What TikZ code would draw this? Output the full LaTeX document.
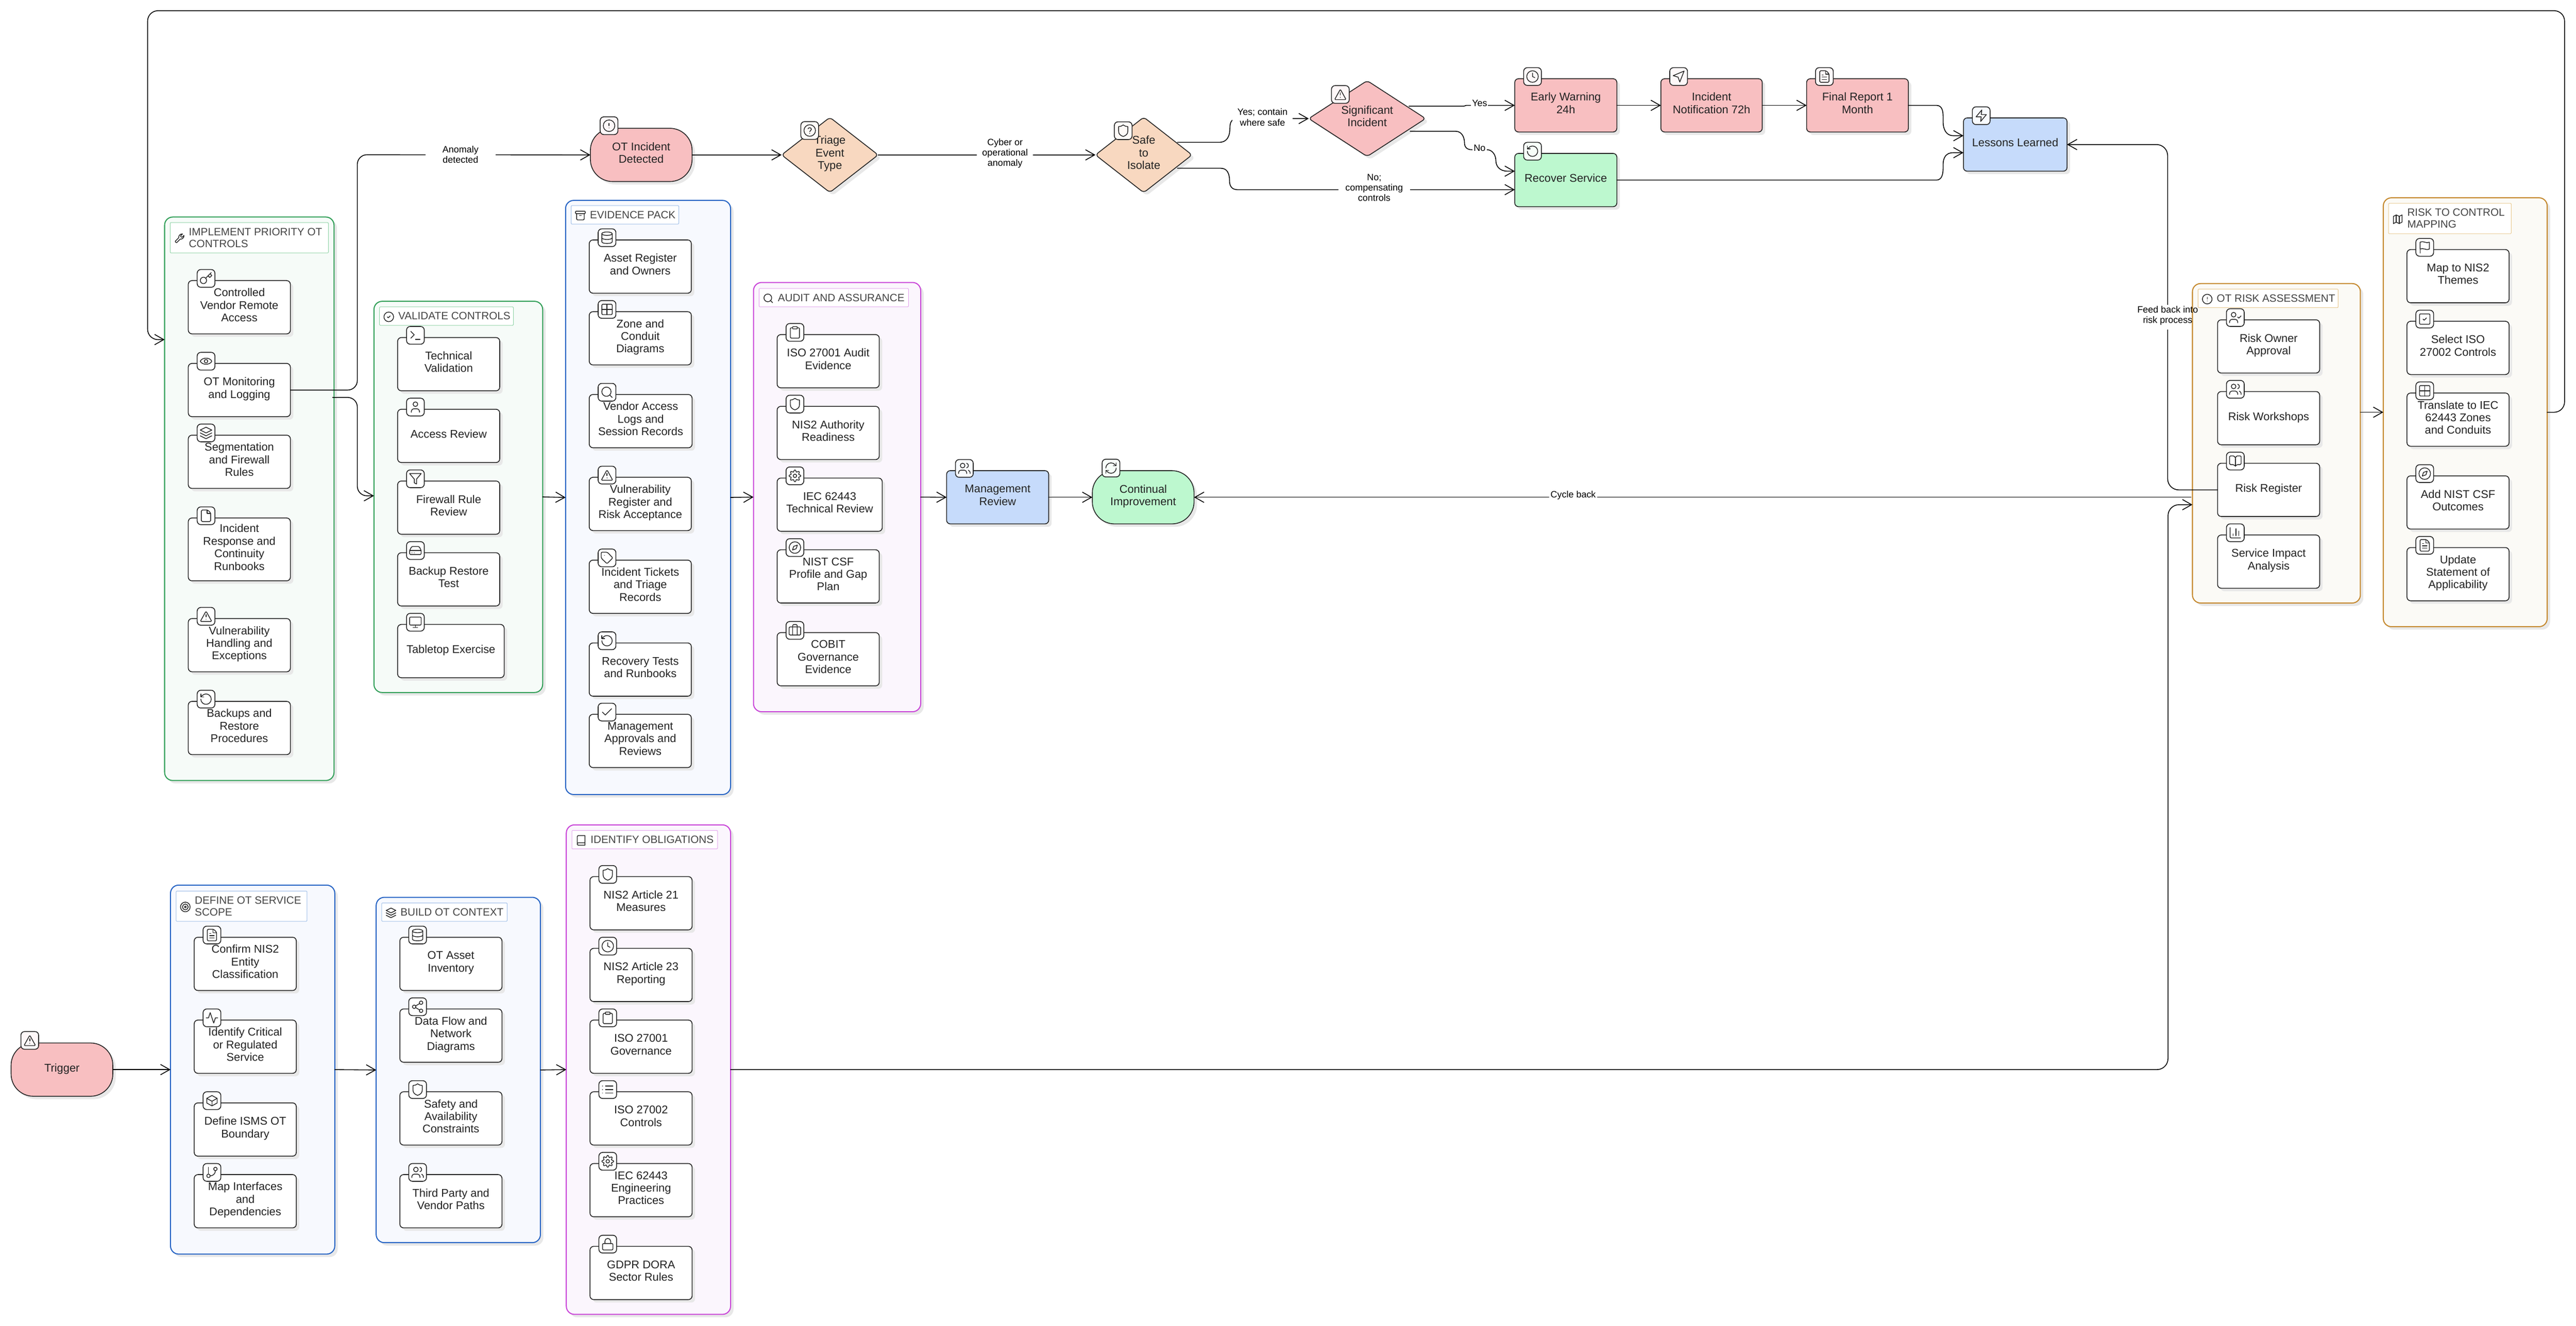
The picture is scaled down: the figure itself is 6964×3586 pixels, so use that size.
\documentclass[tikz,border=0pt]{standalone}
\usepackage{fontspec}
\setmainfont{Liberation Sans}
\usetikzlibrary{arrows.meta,shapes.geometric,shadows}
\definecolor{redf}{HTML}{F8BFC1}
\definecolor{peachf}{HTML}{F8D8C0}
\definecolor{greenf}{HTML}{BDF8CF}
\definecolor{bluef}{HTML}{C6DBFB}
\definecolor{shadowc}{HTML}{E8E8E8}
\definecolor{inkc}{HTML}{222222}
\definecolor{titlec}{HTML}{444444}
\definecolor{gnB}{HTML}{2F9E56}\definecolor{gnF}{HTML}{F6FBF8}\definecolor{gnT}{HTML}{8FD3A6}
\definecolor{blB}{HTML}{2563C4}\definecolor{blF}{HTML}{F7F9FE}\definecolor{blT}{HTML}{A0BFE8}
\definecolor{mgB}{HTML}{C944D8}\definecolor{mgF}{HTML}{FBF6FD}\definecolor{mgT}{HTML}{E3A5EC}
\definecolor{orB}{HTML}{C4872B}\definecolor{orF}{HTML}{FBFAF6}\definecolor{orT}{HTML}{E8C890}
\tikzset{
  shd/.style={drop shadow={shadow xshift=2pt,shadow yshift=-2pt,fill=shadowc,draw=none,opacity=1}},
  rnodebox/.style={rectangle,draw=inkc,line width=.55pt,rounded corners=2.5pt,inner sep=0pt,outer sep=0pt,shd},
  stadiumbox/.style={rectangle,draw=inkc,line width=.55pt,rounded corners=15pt,inner sep=0pt,outer sep=0pt,shd},
  diabox/.style={diamond,draw=inkc,line width=.55pt,rounded corners=2.2pt,inner sep=0pt,outer sep=0pt,shd},
  grpbox/.style={rectangle,line width=.7pt,rounded corners=5.5pt,inner sep=0pt,outer sep=0pt,shd},
  ttlbox/.style={rectangle,line width=.35pt,rounded corners=.5pt,fill=white,inner sep=0pt,outer sep=0pt},
  iconbox/.style={rectangle,draw=inkc,line width=.55pt,rounded corners=2.5pt,inner sep=0pt,outer sep=0pt,minimum width=12pt,minimum height=12pt},
  bodytext/.style={align=center,inner sep=0pt,text=inkc,font=\fontsize{7.6}{8.5}\selectfont,execute at begin node=\strut,execute at end node=\strut,yshift=.25pt},
  ttltext/.style={align=left,anchor=west,inner sep=0pt,text=titlec,font=\fontsize{7.2}{8}\selectfont},
  lbl/.style={align=center,inner sep=0pt,fill=white,text=black,font=\fontsize{6.25}{7}\selectfont},
  edge/.style={draw=black,line width=.55pt,line cap=round,-{Straight Barb[length=6.2pt,width=7pt]}},
  plain/.style={draw=black,line width=.55pt,line cap=round},
}
\newcommand\drawicon[3]{\begin{scope}[shift={(#1)},x=#3pt,y=-#3pt,xshift=-12*#3pt,yshift=12*#3pt,line width=.5pt,line cap=round,line join=round,draw=inkc]\csname ico#2\endcsname\end{scope}}
% node with icon tab
\newcommand\rnode[8]{\pgfmathsetmacro\cxx{#2+#4/2}\pgfmathsetmacro\cyy{#3+#5/2}\pgfmathsetmacro\ixx{#2+48}\pgfmathsetmacro\iyy{#3-6}%
  \node[rnodebox,fill=#6,minimum width=#4*.25pt,minimum height=#5*.25pt] (#1) at (\cxx,\cyy) {};
  \node[bodytext] (#1t) at (\cxx,\cyy) {#8};
  \node[iconbox,fill=#6!12!white] (#1i) at (\ixx,\iyy) {};
  \drawicon{#1i.center}{#7}{.39}}
\newcommand\snode[8]{\pgfmathsetmacro\cxx{#2+#4/2}\pgfmathsetmacro\cyy{#3+#5/2}\pgfmathsetmacro\ixx{#2+50.5}\pgfmathsetmacro\iyy{#3-7}%
  \node[stadiumbox,fill=#6,minimum width=#4*.25pt,minimum height=#5*.25pt] (#1) at (\cxx,\cyy) {};
  \node[bodytext] (#1t) at (\cxx,\cyy) {#8};
  \node[iconbox,fill=#6!12!white] (#1i) at (\ixx,\iyy) {};
  \drawicon{#1i.center}{#7}{.39}}
% name cx cy w h fill icon-cx icon-cy text
\newcommand\dnode[9]{\pgfmathsetmacro\cxx{#2}\pgfmathsetmacro\cyy{#3}%
  \node[diabox,fill=#6,minimum width=#4*.25pt,minimum height=#5*.25pt] (#1) at (\cxx,\cyy) {};
  \node[bodytext] (#1t) at (\cxx,\cyy) {#9};
  \node[iconbox,fill=#6!12!white] (#1i) at (#7,#8) {};}
% group: name x1 y1 x2 y2 scheme
\newcommand\grp[6]{\pgfmathsetmacro\cxx{(#2+#4)/2}\pgfmathsetmacro\cyy{(#3+#5)/2}\pgfmathsetmacro\www{#4-#2}\pgfmathsetmacro\hhh{#5-#3}%
  \node[grpbox,draw=#6B,fill=#6F,minimum width=\www*.25pt,minimum height=\hhh*.25pt] (#1) at (\cxx,\cyy) {};}
% title: name x1 y1 x2 y2 scheme icon text
\newcommand\gttl[8]{\pgfmathsetmacro\cxx{(#2+#4)/2}\pgfmathsetmacro\cyy{(#3+#5)/2}\pgfmathsetmacro\www{#4-#2}\pgfmathsetmacro\hhh{#5-#3}\pgfmathsetmacro\tll{#2+50}\pgfmathsetmacro\ill{#2+25}\pgfmathsetmacro\icc{\cyy+2}%
  \node[ttlbox,draw=#6T,minimum width=\www*.25pt,minimum height=\hhh*.25pt] (#1) at (\cxx,\cyy) {};
  \node[ttltext] (#1t) at (\tll,\cyy) {#8};
  \coordinate (#1c) at (\ill,\icc);
  \drawicon{#1c}{#7}{.325}}
% icons, drawn on a 24 x 24 grid with y going down
\newcommand\icowrench{\draw (14.7,6.3)--(14.7,7.7)--(16.3,9.3)--(17.7,9.3)--(21.47,5.53) .. controls (22,9) and (19,14) .. (13.53,13.47)--(6.62,20.38) .. controls (5.5,21.5) and (2.5,18.5) .. (3.62,17.38)--(10.53,10.47) .. controls (10,5) and (15,2) .. (18.47,2.53)--cycle;}
\newcommand\icokey{\draw (7.5,15.5) circle[radius=5.5];\draw (21,2)--(11.4,11.6);\draw (15.5,7.5)--(18.5,10.5)--(22,7)--(19,4);}
\newcommand\icoeye{\draw (2,12) .. controls (5,5) and (19,5) .. (22,12) .. controls (19,19) and (5,19) .. (2,12)--cycle;\draw (12,12) circle[radius=3];}
\newcommand\icolayers{\draw (12,2)--(22,7)--(12,12)--(2,7)--cycle;\draw (2,12)--(12,17)--(22,12);\draw (2,17)--(12,22)--(22,17);}
\newcommand\icofile{\draw[rounded corners=.6pt] (15,2)--(4,2)--(4,22)--(20,22)--(20,7)--cycle;\draw (14,2)--(14,8)--(20,8);}
\newcommand\icofiletext{\icofile\draw (8,13)--(16,13);\draw (8,17)--(16,17);\draw (8,9)--(10,9);}
\newcommand\icotriangle{\draw[rounded corners=.6pt] (12,3)--(22,21)--(2,21)--cycle;\draw (12,9)--(12,13);\draw (12,17)--(12.01,17);}
\newcommand\icorotate{\draw (3,12) arc[start angle=180,end angle=-135,radius=9]--(3,8);\draw (3,3)--(3,8)--(8,8);}
\newcommand\icocirclecheck{\draw (12,12) circle[radius=10];\draw (9,12)--(11,14)--(15,10);}
\newcommand\icoterminal{\draw (4,17)--(10,11)--(4,5);\draw (12,19)--(20,19);}
\newcommand\icouser{\draw (19,21)--(19,19) .. controls (19,17) and (17,15) .. (15,15)--(9,15) .. controls (7,15) and (5,17) .. (5,19)--(5,21);\draw (12,7) circle[radius=4];}
\newcommand\icofilter{\draw (22,3)--(2,3)--(10,12.46)--(10,19)--(14,21)--(14,12.46)--cycle;}
\newcommand\icodrive{\draw (22,12)--(2,12);\draw[rounded corners=.6pt] (5.45,5)--(2,12)--(2,19)--(22,19)--(22,12)--(18.55,5)--cycle;\draw (6,16)--(6.01,16);\draw (10,16)--(10.01,16);}
\newcommand\icomonitor{\draw[rounded corners=.7pt] (2,3) rectangle (22,17);\draw (8,21)--(16,21);\draw (12,17)--(12,21);}
\newcommand\icoarchive{\draw[rounded corners=.3pt] (2,3) rectangle (22,8);\draw[rounded corners=.6pt] (4,8)--(4,21)--(20,21)--(20,8);\draw (10,12)--(14,12);}
\newcommand\icodatabase{\draw (12,5) ellipse[x radius=9,y radius=3];\draw (3,5)--(3,19) .. controls (3,23) and (21,23) .. (21,19)--(21,5);\draw (3,12) .. controls (3,16) and (21,16) .. (21,12);}
\newcommand\icogrid{\draw[rounded corners=.7pt] (3,3) rectangle (21,21);\draw (3,12)--(21,12);\draw (12,3)--(12,21);}
\newcommand\icosearch{\draw (11,11) circle[radius=8];\draw (21,21)--(16.7,16.7);}
\newcommand\icotag{\draw[rounded corners=.7pt] (12.5,2)--(2,2)--(2,12.5)--(12,22)--(22,12)--cycle;\draw (7.5,7.5)--(7.51,7.5);}
\newcommand\icocheck{\draw (20,6)--(9,17)--(4,12);}
\newcommand\icosqcheck{\draw[rounded corners=.7pt] (3,3) rectangle (21,21);\draw (9,12)--(11,14)--(15,10);}
\newcommand\icoclipboard{\draw[rounded corners=.3pt] (8,2) rectangle (16,6);\draw[rounded corners=.6pt] (16,4)--(20,4)--(20,22)--(4,22)--(4,4)--(8,4);}
\newcommand\icoshield{\draw (20,13) .. controls (20,18) and (16.5,20.5) .. (12,22) .. controls (7.5,20.5) and (4,18) .. (4,13)--(4,5) .. controls (7,5) and (9.5,3.8) .. (12,2) .. controls (14.5,3.8) and (17,5) .. (20,5)--cycle;}
\newcommand\icogear{\draw (12,12) circle[radius=3];\draw plot[domain=0:360,samples=97] ({12+(8.6+1.6*cos(8*\x))*cos(\x)},{12+(8.6+1.6*cos(8*\x))*sin(\x)})--cycle;}
\newcommand\icocompass{\draw (12,12) circle[radius=10];\draw (16.24,7.76)--(14.12,14.12)--(7.76,16.24)--(9.88,9.88)--cycle;}
\newcommand\icobriefcase{\draw[rounded corners=.7pt] (2,6) rectangle (22,20);\draw[rounded corners=.6pt] (16,20)--(16,2)--(8,2)--(8,20);}
\newcommand\icousers{\draw (16,21)--(16,19) .. controls (16,17) and (14,15) .. (12,15)--(6,15) .. controls (4,15) and (2,17) .. (2,19)--(2,21);\draw (9,7) circle[radius=4];\draw (16,3.13) .. controls (20,4) and (20,10) .. (16,10.87);\draw (22,21)--(22,19) .. controls (22,17.5) and (20.5,16) .. (19,15.13);}
\newcommand\icorefresh{\draw (3,12) arc[start angle=180,end angle=315,radius=9]--(21,8);\draw (21,3)--(21,8)--(16,8);\draw (21,12) arc[start angle=0,end angle=135,radius=9]--(3,16);\draw (8,16)--(3,16)--(3,21);}
\newcommand\icoalert{\draw (12,12) circle[radius=10];\draw (12,8)--(12,12);\draw (12,16)--(12.01,16);}
\newcommand\icohelp{\draw (12,12) circle[radius=10];\draw (9.09,9) .. controls (9.5,6.5) and (15,6.5) .. (15,10) .. controls (15,12) and (12,12) .. (12,14);\draw (12,17)--(12.01,17);}
\newcommand\icoclock{\draw (12,12) circle[radius=10];\draw (12,6)--(12,12)--(16,14);}
\newcommand\icosend{\draw (21.5,2.5)--(2.5,10.5)--(11,13)--(14,21.5)--cycle;}
\newcommand\icozap{\draw (13,2)--(3,14)--(12,14)--(11,22)--(21,10)--(12,10)--cycle;}
\newcommand\icousercheck{\draw (16,21)--(16,19) .. controls (16,17) and (14,15) .. (12,15)--(6,15) .. controls (4,15) and (2,17) .. (2,19)--(2,21);\draw (9,7) circle[radius=4];\draw (16,11)--(18,13)--(22,9);}
\newcommand\icobook{\draw (12,7)--(12,21);\draw[rounded corners=.6pt] (12,7)--(10,3)--(2,3)--(2,18)--(9,18)--(12,21)--(15,18)--(22,18)--(22,3)--(14,3)--cycle;}
\newcommand\icochart{\draw[rounded corners=.6pt] (3,3)--(3,21)--(21,21);\draw (18,17)--(18,9);\draw (13,17)--(13,5);\draw (8,17)--(8,14);}
\newcommand\icomap{\draw (3,6)--(9,3)--(15,6)--(21,3)--(21,18)--(15,21)--(9,18)--(3,21)--cycle;\draw (9,3)--(9,18);\draw (15,6)--(15,21);}
\newcommand\icoflag{\draw (4,15) .. controls (9,12) and (15,18) .. (20,15)--(20,3) .. controls (15,6) and (9,0) .. (4,3)--cycle;\draw (4,22)--(4,15);}
\newcommand\icotarget{\draw (12,12) circle[radius=10];\draw (12,12) circle[radius=6];\draw (12,12) circle[radius=2];}
\newcommand\icoactivity{\draw (22,12)--(18,12)--(15,21)--(9,3)--(6,12)--(2,12);}
\newcommand\icobox{\draw (21,8)--(12,3)--(3,8)--(3,16)--(12,21)--(21,16)--cycle;\draw (3,8)--(12,13)--(21,8);\draw (12,13)--(12,21);}
\newcommand\icobranch{\draw (6,3)--(6,15);\draw (18,6) circle[radius=3];\draw (6,18) circle[radius=3];\draw (18,9) .. controls (18,14) and (14,18) .. (9,18);}
\newcommand\icoshare{\draw (18,5) circle[radius=3];\draw (6,12) circle[radius=3];\draw (18,19) circle[radius=3];\draw (8.59,13.51)--(15.42,17.49);\draw (15.41,6.51)--(8.59,10.49);}
\newcommand\icoclosedbook{\draw (4,19.5)--(4,4.5) .. controls (4,3) and (5,2) .. (6.5,2)--(20,2)--(20,22)--(6.5,22) .. controls (3,22) and (3,17) .. (6.5,17)--(20,17);}
\newcommand\icolist{\draw (8,6)--(21,6);\draw (8,12)--(21,12);\draw (8,18)--(21,18);\draw (3,6)--(3.01,6);\draw (3,12)--(3.01,12);\draw (3,18)--(3.01,18);}
\newcommand\icolock{\draw[rounded corners=.7pt] (3,11) rectangle (21,22);\draw (7,11)--(7,7) arc[start angle=180,end angle=360,radius=5]--(17,11);}
\begin{document}
\begin{tikzpicture}[x=.25pt,y=-.25pt]
\path[use as bounding box,fill=white] (0,0) rectangle (6964,3586);
% ---- groups
\grp{gImpl}{445}{587}{903}{2111}{gn}
\grp{gVal}{1011}{815}{1467}{1873}{gn}
\grp{gEvi}{1529}{542}{1975}{2149}{bl}
\grp{gAud}{2037}{764}{2489}{1925}{mg}
\grp{gRisk}{5927}{767}{6381}{1631}{or}
\grp{gMap}{6443}{535}{6886}{1695}{or}
\grp{gDef}{461}{2394}{905}{3392}{bl}
\grp{gBld}{1017}{2427}{1461}{3361}{bl}
\grp{gObl}{1531}{2231}{1975}{3555}{mg}
\gttl{tImpl}{460}{602}{888}{684}{gn}{wrench}{IMPLEMENT PRIORITY OT\\CONTROLS}
\gttl{tVal}{1026}{830}{1388}{880}{gn}{circlecheck}{VALIDATE CONTROLS}
\gttl{tEvi}{1544}{556}{1835}{606}{bl}{archive}{EVIDENCE PACK}
\gttl{tAud}{2052}{780}{2456}{830}{mg}{search}{AUDIT AND ASSURANCE}
\gttl{tRisk}{5942}{782}{6321}{832}{or}{alert}{OT RISK ASSESSMENT}
\gttl{tMap}{6457}{550}{6789}{632}{or}{map}{RISK TO CONTROL\\MAPPING}
\gttl{tDef}{476}{2410}{830}{2492}{bl}{target}{DEFINE OT SERVICE\\SCOPE}
\gttl{tBld}{1032}{2442}{1371}{2492}{bl}{layers}{BUILD OT CONTEXT}
\gttl{tObl}{1546}{2246}{1940}{2296}{mg}{closedbook}{IDENTIFY OBLIGATIONS}
% ---- implement
\rnode{a1}{509}{759}{276}{144}{white}{key}{Controlled\\Vendor Remote\\Access}
\rnode{a2}{509}{983}{276}{144}{white}{eye}{OT Monitoring\\and Logging}
\rnode{a3}{509}{1177}{276}{144}{white}{layers}{Segmentation\\and Firewall\\Rules}
\rnode{a4}{509}{1401}{276}{170}{white}{file}{Incident\\Response and\\Continuity\\Runbooks}
\rnode{a5}{509}{1673}{276}{144}{white}{triangle}{Vulnerability\\Handling and\\Exceptions}
\rnode{a6}{509}{1897}{276}{144}{white}{rotate}{Backups and\\Restore\\Procedures}
% ---- validate
\rnode{b1}{1075}{913}{276}{144}{white}{terminal}{Technical\\Validation}
\rnode{b2}{1075}{1107}{276}{144}{white}{user}{Access Review}
\rnode{b3}{1075}{1301}{276}{144}{white}{filter}{Firewall Rule\\Review}
\rnode{b4}{1075}{1495}{276}{144}{white}{drive}{Backup Restore\\Test}
\rnode{b5}{1075}{1689}{288}{144}{white}{monitor}{Tabletop Exercise}
% ---- evidence
\rnode{c1}{1593}{649}{276}{144}{white}{database}{Asset Register\\and Owners}
\rnode{c2}{1593}{843}{276}{144}{white}{grid}{Zone and\\Conduit\\Diagrams}
\rnode{c3}{1593}{1067}{278}{144}{white}{search}{Vendor Access\\Logs and\\Session Records}
\rnode{c4}{1593}{1291}{276}{144}{white}{triangle}{Vulnerability\\Register and\\Risk Acceptance}
\rnode{c5}{1593}{1515}{276}{144}{white}{tag}{Incident Tickets\\and Triage\\Records}
\rnode{c6}{1593}{1739}{276}{144}{white}{rotate}{Recovery Tests\\and Runbooks}
\rnode{c7}{1593}{1932}{276}{144}{white}{check}{Management\\Approvals and\\Reviews}
% ---- audit
\rnode{d1}{2101}{905}{276}{144}{white}{clipboard}{ISO 27001 Audit\\Evidence}
\rnode{d2}{2101}{1099}{276}{144}{white}{shield}{NIS2 Authority\\Readiness}
\rnode{d3}{2101}{1293}{284}{144}{white}{gear}{IEC 62443\\Technical Review}
\rnode{d4}{2101}{1487}{276}{144}{white}{compass}{NIST CSF\\Profile and Gap\\Plan}
\rnode{d5}{2101}{1711}{276}{144}{white}{briefcase}{COBIT\\Governance\\Evidence}
% ---- review
\rnode{mgmt}{2559}{1273}{276}{144}{bluef}{users}{Management\\Review}
\snode{cont}{2953}{1273}{275}{144}{greenf}{refresh}{Continual\\Improvement}
% ---- incident path
\snode{inc}{1596}{347}{275}{144}{redf}{alert}{OT Incident\\Detected}
\dnode{tri}{2243.5}{419}{261}{203}{peachf}{2189}{353}{Triage\\Event\\Type}
\drawicon{trii.center}{help}{.39}
\dnode{saf}{3092}{419}{261}{204}{peachf}{3036.5}{353.5}{Safe\\to\\Isolate}
\drawicon{safi.center}{shield}{.39}
\dnode{sig}{3696}{320.7}{316}{205}{redf}{3623.5}{255.5}{Significant\\Incident}
\drawicon{sigi.center}{triangle}{.39}
\rnode{early}{4095}{213}{276}{144}{redf}{clock}{Early Warning\\24h}
\rnode{noti}{4490}{213}{274}{144}{redf}{send}{Incident\\Notification 72h}
\rnode{fin}{4884}{213}{275}{144}{redf}{filetext}{Final Report 1\\Month}
\rnode{rec}{4095}{415}{276}{144}{greenf}{rotate}{Recover Service}
\rnode{les}{5308}{319}{280}{144}{bluef}{zap}{Lessons Learned}
% ---- risk
\rnode{e1}{5995}{865}{276}{144}{white}{usercheck}{Risk Owner\\Approval}
\rnode{e2}{5995}{1059}{276}{144}{white}{users}{Risk Workshops}
\rnode{e3}{5995}{1253}{276}{144}{white}{book}{Risk Register}
\rnode{e4}{5995}{1447}{276}{144}{white}{chart}{Service Impact\\Analysis}
% ---- mapping
\rnode{f1}{6507}{675}{276}{144}{white}{flag}{Map to NIS2\\Themes}
\rnode{f2}{6507}{869}{276}{144}{white}{sqcheck}{Select ISO\\27002 Controls}
\rnode{f3}{6507}{1063}{276}{144}{white}{grid}{Translate to IEC\\62443 Zones\\and Conduits}
\rnode{f4}{6507}{1287}{276}{144}{white}{compass}{Add NIST CSF\\Outcomes}
\rnode{f5}{6507}{1481}{276}{144}{white}{filetext}{Update\\Statement of\\Applicability}
% ---- trigger and scope
\snode{trig}{30}{2821}{275}{144}{redf}{triangle}{Trigger}
\rnode{g1}{525}{2535}{276}{144}{white}{filetext}{Confirm NIS2\\Entity\\Classification}
\rnode{g2}{525}{2759}{276}{144}{white}{activity}{Identify Critical\\or Regulated\\Service}
\rnode{g3}{525}{2983}{276}{144}{white}{box}{Define ISMS OT\\Boundary}
\rnode{g4}{525}{3177}{276}{144}{white}{branch}{Map Interfaces\\and\\Dependencies}
\rnode{h1}{1081}{2535}{276}{144}{white}{database}{OT Asset\\Inventory}
\rnode{h2}{1081}{2729}{276}{144}{white}{share}{Data Flow and\\Network\\Diagrams}
\rnode{h3}{1081}{2953}{276}{144}{white}{shield}{Safety and\\Availability\\Constraints}
\rnode{h4}{1081}{3177}{276}{144}{white}{users}{Third Party and\\Vendor Paths}
\rnode{i1}{1595}{2371}{276}{144}{white}{shield}{NIS2 Article 21\\Measures}
\rnode{i2}{1595}{2565}{276}{144}{white}{clock}{NIS2 Article 23\\Reporting}
\rnode{i3}{1595}{2759}{276}{144}{white}{clipboard}{ISO 27001\\Governance}
\rnode{i4}{1595}{2953}{276}{144}{white}{list}{ISO 27002\\Controls}
\rnode{i5}{1595}{3147}{276}{144}{white}{gear}{IEC 62443\\Engineering\\Practices}
\rnode{i6}{1595}{3371}{276}{144}{white}{lock}{GDPR DORA\\Sector Rules}
% ---- free connector ends
\coordinate (implOut) at (899,1075);
\coordinate (implIn) at (445,918.5);
\coordinate (valIn) at (1011,1341);
\coordinate (safA) at (3183,385);
\coordinate (safB) at (3183,455);
\coordinate (sigA) at (3809,287);
\coordinate (sigB) at (3812,355);
\coordinate (recA) at (4095,463);
\coordinate (recB) at (4095,513);
\coordinate (lesA) at (5308,367);
\coordinate (lesB) at (5308,413);
\coordinate (riskOut) at (6381,1115);
\coordinate (riskIn) at (5927,1365);
\coordinate (riskCyc) at (5923,1345);
% ---- connectors
\draw[edge] (trig.east) -- (gDef.west);
\draw[edge] (gDef.east) -- (gBld.west);
\draw[edge] (gBld.east) -- (gObl.west);
\draw[edge,rounded corners=7.5pt] (gObl.east) -- (5861,2893) -- (5861,1365) -- (riskIn);
\draw[edge] (riskOut) -- (gMap.west);
\draw[edge,rounded corners=7pt] (gMap.east) -- (6933,1115) -- (6933,29) -- (399,29) -- (399,918.5) -- (implIn);
\draw[edge,rounded corners=6.5pt] (a2.east) -- (966,1055) -- (966,418.5) -- (inc.west);
\draw[edge,rounded corners=6.5pt] (implOut) -- (966,1075) -- (966,1341) -- (valIn);
\draw[edge] (gVal.east) -- (gEvi.west);
\draw[edge] (gEvi.east) -- (gAud.west);
\draw[edge] (gAud.east) -- (mgmt.west);
\draw[edge] (mgmt.east) -- (cont.west);
\draw[edge] (riskCyc) -- (cont.east);
\draw[edge] (inc.east) -- (tri.west);
\draw[edge] (tri.east) -- (saf.west);
\draw[edge] (safA) -- (3295,385) .. controls (3320,385) and (3325,365) .. (3325,345) .. controls (3325,328) and (3332,320.7) .. (3345,320.7) -- (sig.west);
\draw[edge] (safB) -- (3300,455) .. controls (3318,455) and (3324,470) .. (3324,490) .. controls (3324,505) and (3332,513) .. (3345,513) -- (recB);
\draw[edge] (sigA) -- (3958,287) -- (3964,285) -- (early.west);
\draw[edge] (sigB) -- (3935,355) .. controls (3952,355) and (3959,372) .. (3959,385) .. controls (3959,398) and (3965,405) .. (3980,405) -- (4020,405) .. controls (4035,405) and (4044,420) .. (4044,435) .. controls (4044,450) and (4055,463) .. (4075,463) -- (recA);
\draw[edge] (early.east) -- (noti.west);
\draw[edge] (noti.east) -- (fin.west);
\draw[edge] (fin.east) -- (5235,285) .. controls (5250,285) and (5253,300) .. (5253,315) -- (5253,330) .. controls (5253,350) and (5262,367) .. (5280,367) -- (lesA);
\draw[edge] (rec.east) -- (5235,487) .. controls (5250,487) and (5253,470) .. (5253,455) -- (5253,445) .. controls (5253,425) and (5262,413) .. (5280,413) -- (lesB);
\draw[edge,rounded corners=7.5pt] (e3.west) -- (5860,1325) -- (5860,391) -- (les.east);
% ---- connector labels
\node[lbl,minimum width=47.5pt] (l1) at (1245,418) {Anomaly\\detected};
\node[lbl,minimum width=38pt] (l2) at (2717,415) {Cyber or\\operational\\anomaly};
\node[lbl,minimum width=41pt] (l3) at (3413,317) {Yes; contain\\where safe};
\node[lbl,minimum width=48.5pt] (l4) at (3715,507) {No;\\compensating\\controls};
\node[lbl,minimum width=11.5pt] (l5) at (4000,279) {Yes};
\node[lbl,minimum width=10pt] (l6) at (4000,400) {No};
\node[lbl,minimum width=32.5pt] (l7) at (4253,1339) {Cycle back};
\fill[white] (5835,824) rectangle (5885,891);
\node[align=center,inner sep=0pt,text=black,font=\fontsize{6.25}{7}\selectfont] (l8) at (5860,853) {Feed back into\\risk process};
\end{tikzpicture}
\end{document}
